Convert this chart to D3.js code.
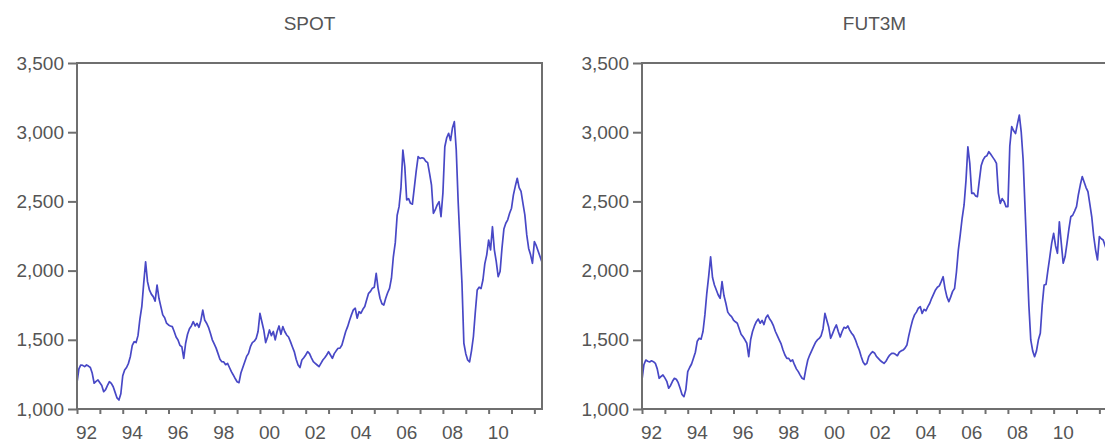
<!DOCTYPE html>
<html>
<head>
<meta charset="utf-8">
<script src="https://cdn.jsdelivr.net/npm/d3@7"></script>
<style>
  html, body { margin: 0; padding: 0; background: #fff; }
  svg { display: block; }
  text { font-family: Arial, "Liberation Sans", Helvetica, sans-serif; fill: #555; }
</style>
</head>
<body>
<svg id="chart" width="1105" height="446"></svg>
<script>
// Monthly observations, 1992M1 .. 2012M5 (245 months)
const startYear = 1992;
const panelTitles = ["SPOT", "FUT3M"];
const yTickValues = [1000, 1500, 2000, 2500, 3000, 3500];
const xLabelYears = [1992, 1994, 1996, 1998, 2000, 2002, 2004, 2006, 2008, 2010];

const spot = [
  // 1992
  1190, 1290, 1318, 1315, 1306, 1318, 1310, 1300, 1258, 1186, 1200, 1210,
  // 1993
  1190, 1170, 1125, 1140, 1170, 1197, 1185, 1161, 1120, 1080, 1065, 1110,
  // 1994
  1240, 1282, 1300, 1330, 1380, 1460, 1486, 1480, 1530, 1650, 1739, 1908,
  // 1995
  2064, 1920, 1860, 1830, 1812, 1780, 1896, 1800, 1740, 1680, 1660, 1620,
  // 1996
  1607, 1600, 1595, 1560, 1520, 1499, 1460, 1450, 1366, 1475, 1540, 1580,
  // 1997
  1600, 1631, 1600, 1619, 1590, 1640, 1715, 1643, 1620, 1590, 1547, 1500,
  // 1998
  1470, 1440, 1400, 1360, 1342, 1340, 1320, 1330, 1300, 1270, 1246, 1220,
  // 1999
  1197, 1190, 1260, 1300, 1340, 1380, 1402, 1450, 1480, 1490, 1510, 1560,
  // 2000
  1691, 1630, 1571, 1480, 1520, 1571, 1530, 1560, 1500, 1560, 1600, 1540,
  // 2001
  1595, 1560, 1535, 1520, 1487, 1450, 1415, 1360, 1318, 1300, 1354, 1370,
  // 2002
  1390, 1414, 1400, 1370, 1342, 1330, 1318, 1306, 1330, 1354, 1370, 1390,
  // 2003
  1414, 1390, 1366, 1400, 1420, 1439, 1440, 1462, 1511, 1560, 1595, 1640,
  // 2004
  1680, 1716, 1728, 1656, 1703, 1692, 1720, 1740, 1790, 1836, 1850, 1873,
  // 2005
  1880, 1980, 1870, 1800, 1760, 1751, 1800, 1840, 1872, 1945, 2100, 2200,
  // 2006
  2400, 2462, 2600, 2871, 2751, 2510, 2520, 2486, 2480, 2600, 2720, 2823,
  // 2007
  2810, 2815, 2811, 2790, 2780, 2703, 2620, 2414, 2440, 2475, 2498, 2390,
  // 2008
  2560, 2895, 2960, 2992, 2940, 3030, 3076, 2871, 2500, 2200, 1908, 1475,
  // 2009
  1400, 1354, 1340, 1420, 1522, 1700, 1860, 1880, 1870, 1932, 2050, 2114,
  // 2010
  2221, 2150, 2317, 2150, 2065, 1956, 1993, 2162, 2300, 2342, 2367, 2414,
  // 2011
  2451, 2547, 2610, 2667, 2600, 2572, 2486, 2403, 2258, 2160, 2114, 2053,
  // 2012
  2209, 2180, 2140, 2100, 2060
];

const fut3m = [
  // 1992
  1210, 1320, 1354, 1345, 1340, 1348, 1342, 1330, 1290, 1222, 1235, 1246,
  // 1993
  1225, 1200, 1150, 1170, 1200, 1222, 1215, 1190, 1150, 1105, 1089, 1140,
  // 1994
  1270, 1300, 1325, 1366, 1410, 1490, 1511, 1505, 1560, 1680, 1836, 1960,
  // 1995
  2100, 1950, 1896, 1860, 1824, 1800, 1920, 1820, 1764, 1700, 1680, 1667,
  // 1996
  1643, 1630, 1620, 1580, 1540, 1522, 1500, 1475, 1378, 1500, 1560, 1600,
  // 1997
  1631, 1650, 1620, 1640, 1610, 1660, 1679, 1650, 1630, 1600, 1560, 1530,
  // 1998
  1500, 1470, 1426, 1390, 1366, 1366, 1345, 1355, 1320, 1290, 1270, 1245,
  // 1999
  1222, 1215, 1290, 1354, 1390, 1420, 1450, 1480, 1499, 1510, 1530, 1580,
  // 2000
  1691, 1640, 1590, 1511, 1545, 1580, 1607, 1560, 1520, 1560, 1590, 1583,
  // 2001
  1600, 1570, 1547, 1530, 1500, 1460, 1426, 1380, 1340, 1320, 1330, 1380,
  // 2002
  1400, 1414, 1405, 1380, 1366, 1350, 1340, 1330, 1345, 1370, 1390, 1402,
  // 2003
  1402, 1395, 1385, 1410, 1420, 1426, 1440, 1462, 1530, 1590, 1643, 1680,
  // 2004
  1700, 1728, 1740, 1690, 1720, 1710, 1740, 1764, 1800, 1830, 1860, 1880,
  // 2005
  1890, 1920, 1956, 1870, 1810, 1775, 1810, 1850, 1870, 1990, 2150, 2260,
  // 2006
  2380, 2474, 2650, 2895, 2775, 2558, 2560, 2540, 2534, 2650, 2760, 2800,
  // 2007
  2823, 2830, 2859, 2840, 2820, 2800, 2775, 2560, 2486, 2520, 2500, 2462,
  // 2008
  2462, 2900, 3040, 3010, 2990, 3060, 3124, 3000, 2800, 2450, 2100, 1750,
  // 2009
  1499, 1420, 1378, 1420, 1500, 1547, 1750, 1896, 1900, 2004, 2100, 2200,
  // 2010
  2269, 2180, 2125, 2353, 2200, 2053, 2100, 2197, 2300, 2389, 2400, 2430,
  // 2011
  2462, 2550, 2620, 2679, 2640, 2600, 2570, 2480, 2389, 2250, 2150, 2077,
  // 2012
  2245, 2230, 2221, 2180, 2140
];

const seriesList = [spot, fut3m];

const svg = d3.select("#chart");
const plotTop = 63, plotBottom = 409, plotWidth = 465;
const panelLefts = [77, 642];
const frameColor = "#6f6f6f";
const lineColor = "#4848c6";
const fontSize = 19;

const lastT = startYear + (spot.length - 1) / 12;

panelLefts.forEach((left, p) => {
  const x = d3.scaleLinear().domain([startYear, lastT]).range([left, left + plotWidth]);
  const y = d3.scaleLinear().domain([1000, 3500]).range([plotBottom, plotTop]);

  const g = svg.append("g");

  // clip so the series stays inside the frame
  const clipId = "clip" + p;
  svg.append("clipPath").attr("id", clipId)
    .append("rect")
    .attr("x", left).attr("y", plotTop)
    .attr("width", plotWidth).attr("height", plotBottom - plotTop);

  // series line
  const line = d3.line()
    .x((d, i) => x(startYear + i / 12))
    .y(d => y(d));
  g.append("path")
    .datum(seriesList[p])
    .attr("clip-path", `url(#${clipId})`)
    .attr("fill", "none")
    .attr("stroke", lineColor)
    .attr("stroke-width", 1.7)
    .attr("stroke-linejoin", "round")
    .attr("d", line);

  // frame
  g.append("rect")
    .attr("x", left).attr("y", plotTop)
    .attr("width", plotWidth).attr("height", plotBottom - plotTop)
    .attr("fill", "none")
    .attr("stroke", frameColor)
    .attr("stroke-width", 2);

  // left axis
  const yAxis = d3.axisLeft(y)
    .tickValues(yTickValues)
    .tickSize(9)
    .tickPadding(4)
    .tickFormat(d3.format(","));
  const ya = g.append("g").attr("transform", `translate(${left},0)`).call(yAxis);
  ya.select(".domain").remove();
  ya.selectAll(".tick line").attr("stroke", frameColor).attr("stroke-width", 2);
  ya.selectAll(".tick text")
    .attr("font-size", fontSize)
    .style("font-family", "Arial, 'Liberation Sans', sans-serif")
    .attr("fill", "#555");

  // bottom axis: a tick at every year, labels every second year
  const yearTicks = d3.range(startYear, Math.floor(lastT) + 1);
  const xAxis = d3.axisBottom(x)
    .tickValues(yearTicks)
    .tickSize(5)
    .tickFormat("");
  const xa = g.append("g").attr("transform", `translate(0,${plotBottom})`).call(xAxis);
  xa.select(".domain").remove();
  xa.selectAll(".tick line").attr("stroke", frameColor).attr("stroke-width", 2);

  g.selectAll("text.xlab")
    .data(xLabelYears)
    .enter().append("text")
    .attr("class", "xlab")
    .attr("x", d => x(d) - 1)
    .attr("y", 439)
    .attr("font-size", fontSize)
    .attr("text-anchor", "start")
    .text(d => String(d % 100).padStart(2, "0"));

  // panel title
  g.append("text")
    .attr("x", left + plotWidth / 2)
    .attr("y", 30)
    .attr("font-size", fontSize)
    .attr("text-anchor", "middle")
    .text(panelTitles[p]);
});
</script>
</body>
</html>
